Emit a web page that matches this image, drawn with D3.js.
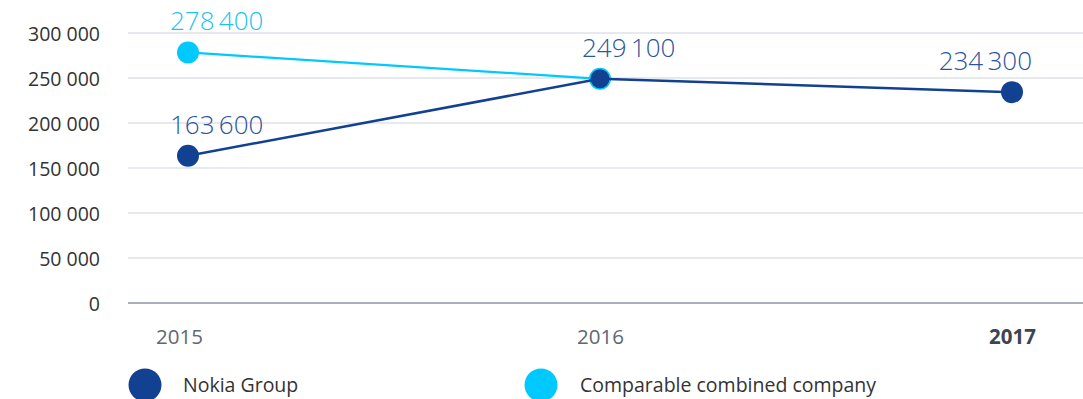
<!DOCTYPE html>
<html>
<head>
<meta charset="utf-8">
<script src="https://cdn.jsdelivr.net/npm/d3@7"></script>
<style>
  html, body { margin: 0; padding: 0; background: #fff; }
  svg { display: block; font-family: "Open Sans", "Noto Sans", sans-serif; }
</style>
</head>
<body>
<svg id="chart" width="1083" height="399"></svg>
<script>
// Employees by year
const years = [2015, 2016, 2017];
const nokiaGroup = [163600, 249100, 234300];
const combinedYears = [2015, 2016];
const combinedCompany = [278400, 249100];
const yTicks = [0, 50000, 100000, 150000, 200000, 250000, 300000];
const seriesNames = ["Nokia Group", "Comparable combined company"];

const dark = "#124191";
const cyan = "#00c9ff";

const svg = d3.select("#chart");
const fmt = v => d3.format(",")(v).replace(/,/g, " ");
const fmtThin = v => d3.format(",")(v).replace(/,/g, "\u2009");

const x = d3.scaleLinear().domain([2015, 2017]).range([188, 1012]);
const y = d3.scaleLinear().domain([0, 300000]).range([303, 33]);

// tick labels
const yAxis = d3.axisLeft(y).tickValues(yTicks).tickFormat(fmt).tickSize(0).tickPadding(0);
const gy = svg.append("g").attr("transform", "translate(100,0)").call(yAxis);
gy.select(".domain").remove();
gy.selectAll("text")
  .attr("font-size", 19.5).attr("fill", "#333").attr("font-family", "Open Sans, sans-serif")
  .attr("dy", "0.36em");

// gridlines
svg.append("g").selectAll("line").data(yTicks).join("line")
  .attr("x1", 128).attr("x2", 1083)
  .attr("y1", d => y(d)).attr("y2", d => y(d))
  .attr("stroke", d => d === 0 ? "#a7afba" : "#cdd4de")
  .attr("stroke-width", d => d === 0 ? 2 : 1);

// year labels
const xAxis = d3.axisBottom(x).tickValues(years).tickFormat(d3.format("d")).tickSize(0).tickPadding(0);
const gx = svg.append("g").attr("transform", "translate(0,344)").call(xAxis);
gx.select(".domain").remove();
gx.selectAll("text")
  .attr("dy", 0)
  .attr("x", d => d === 2015 ? -9 : 0)
  .attr("font-size", 20.5).attr("font-family", "Open Sans, sans-serif")
  .attr("fill", d => d === 2017 ? "#3d4452" : "#5f6773")
  .attr("font-weight", d => d === 2017 ? 700 : 400);

const line = d3.line().x(d => x(d[0])).y(d => y(d[1]));

// comparable combined company
const cData = combinedYears.map((yr, i) => [yr, combinedCompany[i]]);
svg.append("path").datum(cData).attr("d", line)
  .attr("fill", "none").attr("stroke", cyan).attr("stroke-width", 2.2);
svg.append("g").selectAll("circle").data(cData).join("circle")
  .attr("cx", d => x(d[0])).attr("cy", d => y(d[1])).attr("r", 11).attr("fill", cyan);

// Nokia group
const nData = years.map((yr, i) => [yr, nokiaGroup[i]]);
svg.append("path").datum(nData).attr("d", line)
  .attr("fill", "none").attr("stroke", dark).attr("stroke-width", 2.5);
svg.append("g").selectAll("circle").data(nData).join("circle")
  .attr("cx", d => x(d[0])).attr("cy", d => y(d[1]))
  .attr("r", d => d[0] === 2016 ? 9.5 : 11).attr("fill", dark);

// value labels
function valueLabels(data, color, skip) {
  svg.append("g").selectAll("text").data(data.filter(d => !skip(d))).join("text")
    .attr("x", d => d[0] === 2017 ? x(d[0]) + 20 : x(d[0]) - 18)
    .attr("y", d => y(d[1]) - 22)
    .attr("text-anchor", d => d[0] === 2017 ? "end" : "start")
    .attr("font-size", 26).attr("font-weight", 300)
    .attr("fill", color)
    .text(d => fmtThin(d[1]));
}
valueLabels(cData, "#1cc3f2", d => d[0] === 2016);
valueLabels(nData, "#2c55a0", () => false);

// legend
const legend = [
  { name: seriesNames[0], color: dark, cx: 145, tx: 183 },
  { name: seriesNames[1], color: cyan, cx: 541, tx: 580 }
];
const lg = svg.append("g").selectAll("g").data(legend).join("g");
lg.append("circle").attr("cx", d => d.cx).attr("cy", 385).attr("r", 16.5).attr("fill", d => d.color);
lg.append("text").attr("x", d => d.tx).attr("y", 392)
  .attr("font-size", 19.5).attr("fill", "#333").text(d => d.name);
</script>
</body>
</html>
